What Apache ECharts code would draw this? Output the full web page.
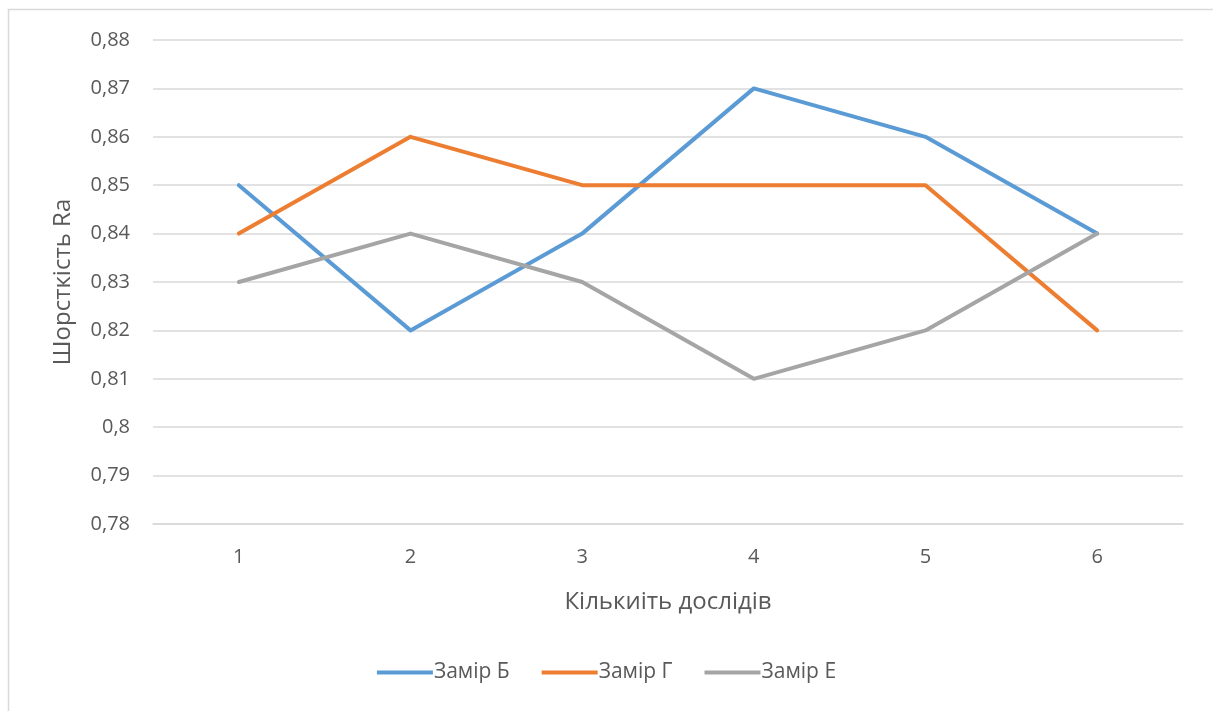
<!DOCTYPE html>
<html>
<head>
<meta charset="utf-8">
<script src="https://cdn.jsdelivr.net/npm/echarts@6/dist/echarts.min.js"></script>
<style>
html,body{margin:0;padding:0;background:#fff;}
#chart{width:1213px;height:711px;}
</style>
</head>
<body>
<div id="chart"></div>
<script>
const categories = ['1', '2', '3', '4', '5', '6'];
const seriesNames = ['Замір Б', 'Замір Г', 'Замір Е'];
const zamirB = [0.85, 0.82, 0.84, 0.87, 0.86, 0.84];
const zamirG = [0.84, 0.86, 0.85, 0.85, 0.85, 0.82];
const zamirE = [0.83, 0.84, 0.83, 0.81, 0.82, 0.84];
const colors = ['#5B9BD5', '#ED7D31', '#A5A5A5'];
const yTitle = 'Шорсткість Ra';
const xTitle = 'Кількиіть дослідів';

const font = '"Open Sans", "Noto Sans", sans-serif';
const chart = echarts.init(document.getElementById('chart'), null, {renderer: 'canvas'});
const mk = (name, data, i) => ({
  name: name, type: 'line', data: data, symbol: 'none',
  lineStyle: {width: 4, color: colors[i], cap: 'round', join: 'round'},
  itemStyle: {color: colors[i]}
});
chart.setOption({
  animation: false,
  backgroundColor: '#fff',
  textStyle: {fontFamily: font},
  graphic: [{
    type: 'rect', shape: {x: 8.5, y: 9.5, width: 1220, height: 720},
    style: {fill: 'none', stroke: '#D9D9D9', lineWidth: 1.5}, silent: true
  }],
  grid: {left: 153, right: 30, top: 40, bottom: 187, containLabel: false},
  legend: {
    data: seriesNames, bottom: 23, left: 'center',
    itemWidth: 56, itemHeight: 4, itemGap: 32,
    icon: 'path://M0,0 H56 V4 H0 Z',
    textStyle: {fontSize: 21, color: '#595959', fontFamily: font, padding: [0, 0, 0, -4]}
  },
  xAxis: {
    type: 'category', data: categories, boundaryGap: true,
    name: xTitle, nameLocation: 'middle', nameGap: 66,
    nameTextStyle: {fontSize: 24, color: '#595959', fontFamily: font},
    axisLine: {show: true, lineStyle: {color: '#D9D9D9', width: 1.5}},
    axisTick: {show: false},
    axisLabel: {fontSize: 20, color: '#595959', margin: 23, fontFamily: font}
  },
  yAxis: {
    type: 'value', min: 0.78, max: 0.88, interval: 0.01,
    name: yTitle, nameLocation: 'middle', nameGap: 78, nameRotate: 90,
    nameTextStyle: {fontSize: 24, color: '#595959', fontFamily: font},
    axisLine: {show: false}, axisTick: {show: false},
    axisLabel: {
      fontSize: 20, color: '#595959', margin: 23, fontFamily: font,
      formatter: v => String(Math.round(v * 100) / 100).replace('.', ',')
    },
    splitLine: {lineStyle: {color: '#D9D9D9', width: 1.5}}
  },
  series: [mk(seriesNames[0], zamirB, 0), mk(seriesNames[1], zamirG, 1), mk(seriesNames[2], zamirE, 2)]
});
</script>
</body>
</html>
